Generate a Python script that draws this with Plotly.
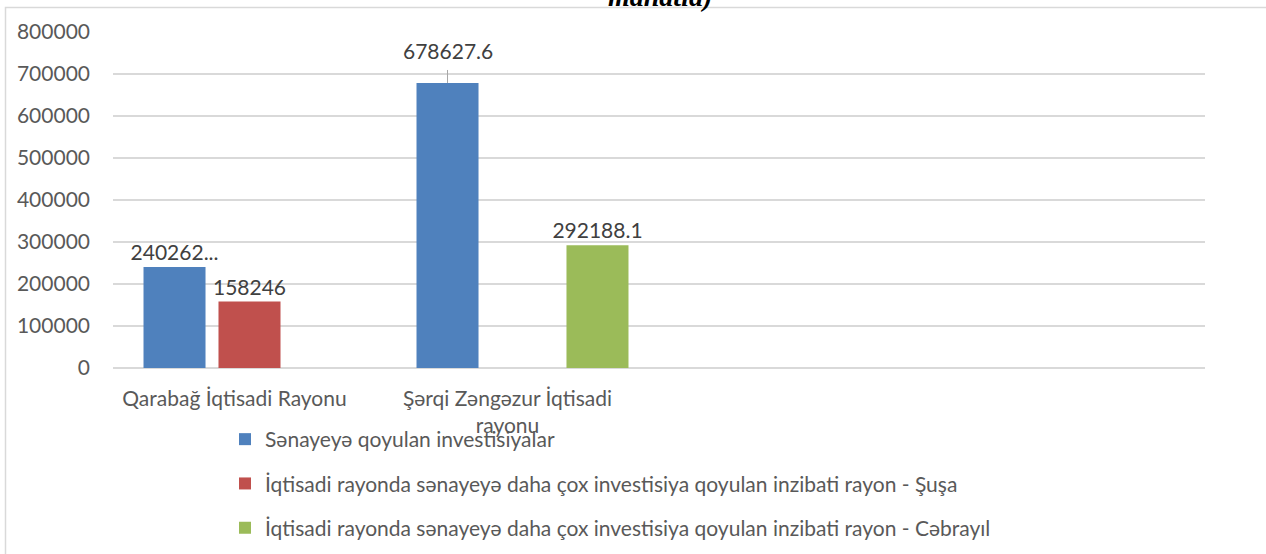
import plotly.graph_objects as go

# Economic regions (two slots on the axis stay empty)
regions = ["Qarabağ İqtisadi Rayonu", "Şərqi Zəngəzur İqtisadi<br>rayonu"]
slots = [0, 1, 2, 3]

series_names = [
    "Sənayeyə qoyulan investisiyalar",
    "İqtisadi rayonda sənayeyə daha çox investisiya qoyulan inzibati rayon - Şuşa",
    "İqtisadi rayonda sənayeyə daha çox investisiya qoyulan inzibati rayon - Cəbrayıl",
]
investments = [240262.5, 678627.6, None, None]
shusha = [158246, None, None, None]
jabrayil = [None, 292188.1, None, None]

label_invest = ["240262...", "", "", ""]
label_shusha = ["158246", "", "", ""]
label_jabrayil = ["", "292188.1", "", ""]

y_ticks = [0, 100000, 200000, 300000, 400000, 500000, 600000, 700000, 800000]

colors = ["#4f81bd", "#c0504d", "#9bbb59"]

W, H = 1266, 554
ML, MR, MT, MB = 113, 61, 32, 186
BARGAP, GROUPGAP = 0.176, 0.173
FS = 21

FONT = "Lato, Carlito, Calibri, sans-serif"
LABEL_COLOR = "#404040"
TICK_COLOR = "#595959"
GRID = "#d9d9d9"

plot_w = W - ML - MR
ph = H - MT - MB

fig = go.Figure()
for i, (name, vals, txt) in enumerate(zip(series_names,
                                          [investments, shusha, jabrayil],
                                          [label_invest, label_shusha, label_jabrayil])):
    fig.add_trace(go.Bar(
        x=slots, y=vals, name=name,
        marker=dict(color=colors[i], line=dict(width=0)),
        text=txt, textposition="outside", cliponaxis=False,
        constraintext="none",
        textfont=dict(family=FONT, size=FS, color=LABEL_COLOR),
        legendgroup=f"g{i}",
    ))

# Label with leader line for the tallest bar (first series in second region)
slot_px = plot_w / len(slots) * (1 - BARGAP) / 3
fig.add_annotation(
    x=slots[1], y=investments[1], xref="x", yref="y",
    xshift=-slot_px, text=f"{investments[1]}",
    showarrow=True, arrowhead=0, arrowwidth=1, arrowcolor="#a6a6a6",
    ax=0, ay=-18, startstandoff=5, yanchor="bottom",
    font=dict(family=FONT, size=FS, color=LABEL_COLOR),
)

# Title tail, mostly cut off at the top edge
fig.add_annotation(
    x=0.501, y=1 + (MT - 14) / ph, xref="paper", yref="paper",
    text="<b><i>manatla)</i></b>", showarrow=False, yanchor="bottom",
    font=dict(family="Liberation Serif, Times New Roman, serif", size=28, color="#000000"),
)

# Outer chart frame (left and top edges visible)
fig.add_shape(
    type="rect", xref="paper", yref="paper",
    x0=(5.5 - ML) / plot_w, x1=(W + 10 - ML) / plot_w,
    y0=1 - (H + 10 - MT) / ph, y1=1 + (MT - 7.5) / ph,
    line=dict(color=GRID, width=1.5), fillcolor="rgba(0,0,0,0)", layer="below",
)

fig.update_layout(
    width=W, height=H,
    margin=dict(l=ML, r=MR, t=MT, b=MB, autoexpand=False),
    paper_bgcolor="white", plot_bgcolor="white",
    barmode="group", bargap=BARGAP, bargroupgap=GROUPGAP,
    font=dict(family=FONT, size=FS, color=TICK_COLOR),
    showlegend=True,
    legend=dict(
        orientation="v", x=(225 - ML) / plot_w, xanchor="left",
        y=1 - (419 - MT) / ph, yanchor="top",
        font=dict(family=FONT, size=FS, color=TICK_COLOR),
        tracegroupgap=14, bgcolor="rgba(0,0,0,0)",
        itemclick=False, itemdoubleclick=False,
    ),
    xaxis=dict(
        range=[-0.5, 3.5], tickmode="array", tickvals=slots[:2], ticktext=regions,
        showgrid=False, zeroline=False, showline=False, ticks="",
        ticklabelstandoff=16, ticklabelshift=-15, automargin=False,
        tickfont=dict(family=FONT, size=FS, color=TICK_COLOR),
        fixedrange=True,
    ),
    yaxis=dict(
        range=[0, 800000], tickmode="array", tickvals=y_ticks,
        ticktext=[str(v) for v in y_ticks],
        showgrid=True, gridcolor=GRID, gridwidth=1.5,
        zeroline=True, zerolinecolor=GRID, zerolinewidth=1.5,
        showline=False, ticks="", ticklabelstandoff=22, automargin=False,
        tickfont=dict(family=FONT, size=FS, color=TICK_COLOR),
        fixedrange=True,
    ),
)

fig.write_html("out.html", config={"displayModeBar": False})
